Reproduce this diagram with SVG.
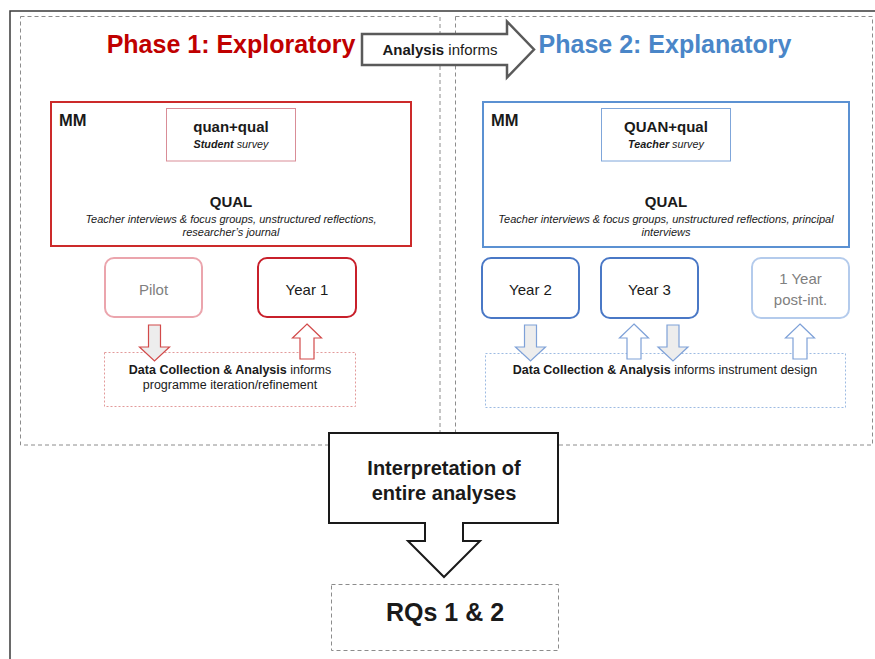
<svg xmlns="http://www.w3.org/2000/svg" xmlns:xlink="http://www.w3.org/1999/xlink" width="875" height="659" viewBox="0 0 875 659">
  <style>
    text { font-family: "Liberation Sans", Arial, sans-serif; fill: #1a1a1a; }
    .title { font-size: 25px; font-weight: bold; }
    .red-title { fill: #C00000; }
    .blue-title { fill: #4A86C8; }
    .mm { font-size: 16.5px; font-weight: bold; }
    .method { font-size: 15px; font-weight: bold; }
    .survey { font-size: 10.8px; font-style: italic; }
    .qual { font-size: 15px; font-weight: bold; }
    .detail { font-size: 11px; font-style: italic; }
    .year { font-size: 15px; }
    .faded { fill: #808080; }
    .dca { font-size: 12.5px; }
    .big { font-size: 20px; font-weight: bold; }
    .rq { font-size: 25px; font-weight: bold; }
    .phase { fill: none; stroke: #8c8c8c; stroke-width: 1; stroke-dasharray: 4 3; }
    .frame { fill: none; stroke: #3a3a3a; stroke-width: 1.5; }
    .arrow-red-down { fill: #ededed; stroke: #D24A4A; stroke-width: 1.2; }
    .arrow-red-up { fill: #ffffff; stroke: #D24A4A; stroke-width: 1.2; }
    .arrow-blue-down { fill: #ededed; stroke: #7EA1D8; stroke-width: 1.2; }
    .arrow-blue-up { fill: #ffffff; stroke: #7EA1D8; stroke-width: 1.2; }
  </style>
  <defs>
    <!-- block arrows: origin at top centre -->
    <polygon id="downArrow" points="-6,0 6,0 6,22 15,22 0,36 -15,22 -6,22"/>
    <polygon id="upArrow" points="0,0 14.5,14 7,14 7,35 -7,35 -7,14 -14.5,14"/>
  </defs>

  <rect width="875" height="659" fill="#ffffff"/>

  <!-- outer frame (left and top edges) -->
  <path class="frame" d="M10,659 V11 H875"/>

  <!-- phase areas -->
  <g id="phase1-area">
    <rect class="phase" x="20.5" y="16.5" width="419.5" height="428.5"/>
    <text class="title red-title" x="231" y="53" text-anchor="middle">Phase 1: Exploratory</text>
  </g>
  <g id="phase2-area">
    <rect class="phase" x="455.5" y="16.5" width="417" height="428.5"/>
    <text class="title blue-title" x="665" y="53" text-anchor="middle">Phase 2: Explanatory</text>
  </g>

  <!-- Phase 1 mixed methods block -->
  <g id="phase1-mm">
    <rect x="51" y="102" width="360" height="144" fill="#ffffff" stroke="#CC2A2A" stroke-width="2"/>
    <text class="mm" x="59" y="126">MM</text>
    <rect x="166.5" y="108.5" width="129" height="52.5" fill="#ffffff" stroke="#D98D97" stroke-width="1"/>
    <text class="method" x="231" y="132" text-anchor="middle">quan+qual</text>
    <text class="survey" x="231" y="148" text-anchor="middle"><tspan font-weight="bold">Student</tspan> survey</text>
    <text class="qual" x="231" y="207" text-anchor="middle">QUAL</text>
    <text class="detail" x="231" y="223" text-anchor="middle">Teacher interviews &amp; focus groups, unstructured reflections,</text>
    <text class="detail" x="231" y="236" text-anchor="middle">researcher’s journal</text>
  </g>

  <!-- Phase 2 mixed methods block -->
  <g id="phase2-mm">
    <rect x="483" y="102" width="366" height="145" fill="#ffffff" stroke="#5B91D2" stroke-width="2"/>
    <text class="mm" x="491" y="126">MM</text>
    <rect x="601.5" y="108.5" width="129" height="52.5" fill="#ffffff" stroke="#7FA6DA" stroke-width="1"/>
    <text class="method" x="666" y="132" text-anchor="middle">QUAN+qual</text>
    <text class="survey" x="666" y="148" text-anchor="middle"><tspan font-weight="bold">Teacher</tspan> survey</text>
    <text class="qual" x="666" y="207" text-anchor="middle">QUAL</text>
    <text class="detail" x="666" y="223" text-anchor="middle">Teacher interviews &amp; focus groups, unstructured reflections, principal</text>
    <text class="detail" x="666" y="236" text-anchor="middle">interviews</text>
  </g>

  <!-- data collection & analysis panels -->
  <g id="phase1-dca">
    <rect x="104.5" y="352.5" width="251" height="54" fill="#ffffff" stroke="#E29A9A" stroke-width="1" stroke-dasharray="2 2"/>
    <text class="dca" x="230" y="374" text-anchor="middle"><tspan font-weight="bold">Data Collection &amp; Analysis</tspan> informs</text>
    <text class="dca" x="230" y="389" text-anchor="middle">programme iteration/refinement</text>
  </g>
  <g id="phase2-dca">
    <rect x="485.5" y="353.5" width="360" height="54" fill="#ffffff" stroke="#9DBBE2" stroke-width="1" stroke-dasharray="2 2"/>
    <text class="dca" x="665" y="374" text-anchor="middle"><tspan font-weight="bold">Data Collection &amp; Analysis</tspan> informs instrument design</text>
  </g>

  <!-- time points -->
  <g id="pilot">
    <rect x="105" y="258" width="97" height="59" rx="9" fill="#ffffff" stroke="#EBA5AD" stroke-width="2"/>
    <text class="year faded" x="153.5" y="295" text-anchor="middle">Pilot</text>
  </g>
  <g id="year1">
    <rect x="258" y="258" width="98" height="59" rx="9" fill="#ffffff" stroke="#C8202B" stroke-width="2"/>
    <text class="year" x="307" y="295" text-anchor="middle">Year 1</text>
  </g>
  <g id="year2">
    <rect x="482" y="258" width="97" height="60" rx="9" fill="#ffffff" stroke="#4A78C6" stroke-width="2"/>
    <text class="year" x="530.5" y="295" text-anchor="middle">Year 2</text>
  </g>
  <g id="year3">
    <rect x="601" y="258" width="97" height="60" rx="9" fill="#ffffff" stroke="#4A78C6" stroke-width="2"/>
    <text class="year" x="649.5" y="295" text-anchor="middle">Year 3</text>
  </g>
  <g id="post-int">
    <rect x="752" y="258" width="97" height="60" rx="9" fill="#ffffff" stroke="#B4CBEC" stroke-width="2"/>
    <text class="year faded" x="800.5" y="284" text-anchor="middle">1 Year</text>
    <text class="year faded" x="800.5" y="305" text-anchor="middle">post-int.</text>
  </g>

  <!-- interpretation block arrow -->
  <g id="interpretation">
    <polygon points="329,433 558,433 558,523 463,523 463,541 480,541 444,577 408,541 425,541 425,523 329,523" fill="#ffffff" stroke="#1a1a1a" stroke-width="2" stroke-linejoin="miter"/>
    <text class="big" x="444" y="475" text-anchor="middle">Interpretation of</text>
    <text class="big" x="444" y="500" text-anchor="middle">entire analyses</text>
  </g>

  <!-- research questions -->
  <g id="rqs">
    <rect x="331.5" y="584.5" width="227" height="66" fill="#ffffff" stroke="#8c8c8c" stroke-width="1" stroke-dasharray="4 3"/>
    <text class="rq" x="445" y="621" text-anchor="middle">RQs 1 &amp; 2</text>
  </g>

  <!-- connectors -->
  <g id="connectors">
    <g id="analysis-informs">
      <polygon points="362,34 507,34 507,21.5 534,49.5 507,77.5 507,65 362,65" fill="#ffffff" stroke="#5a5a5a" stroke-width="2.5"/>
      <text x="440" y="55" font-size="15px" text-anchor="middle"><tspan font-weight="bold">Analysis</tspan> informs</text>
    </g>
    <use xlink:href="#downArrow" class="arrow-red-down" x="154.5" y="325"/>
    <use xlink:href="#upArrow" class="arrow-red-up" x="307" y="324"/>
    <use xlink:href="#downArrow" class="arrow-blue-down" x="530.5" y="325"/>
    <use xlink:href="#upArrow" class="arrow-blue-up" x="634" y="324"/>
    <use xlink:href="#downArrow" class="arrow-blue-down" x="673" y="325"/>
    <use xlink:href="#upArrow" class="arrow-blue-up" x="800" y="324"/>
  </g>
</svg>
